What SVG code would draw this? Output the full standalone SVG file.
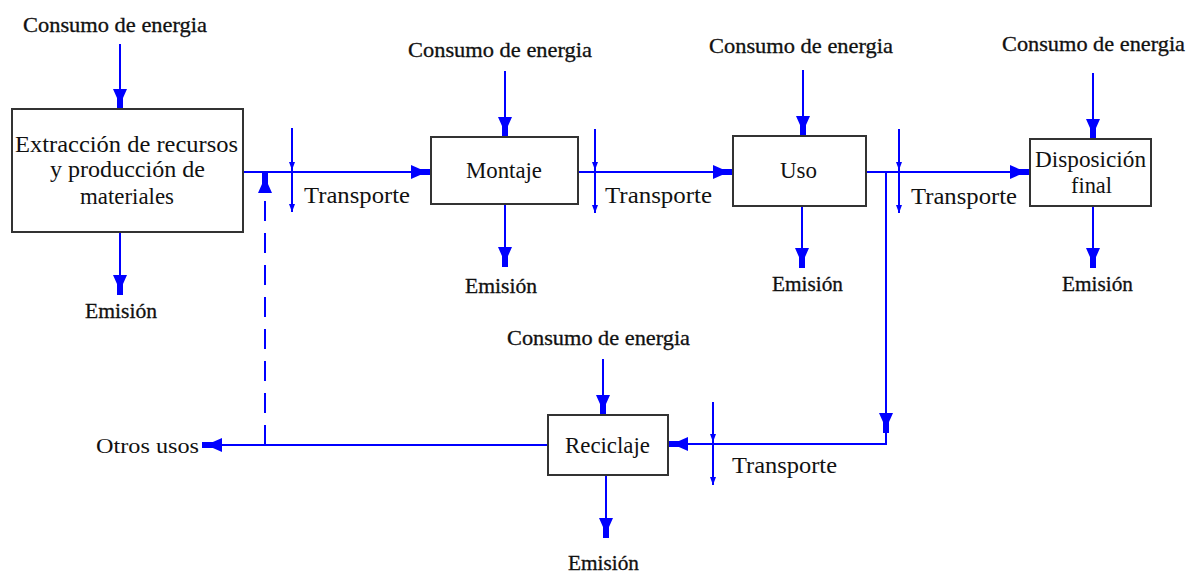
<svg xmlns="http://www.w3.org/2000/svg" width="1194" height="575" viewBox="0 0 1194 575">
<style>
text{font-family:'Liberation Serif','Times New Roman',Times,serif;fill:#111;}
.lbl{font-size:21px;stroke:#111;stroke-width:0.3px;}
.nt{font-size:24px;}
.tr{font-size:23px;}
.ot{font-size:22px;}
.box{fill:#fff;stroke:#333;stroke-width:2;}
.ln{fill:none;stroke:#0000ff;stroke-width:2;}
.big{marker-end:url(#ah);}
.sm{marker-end:url(#as);}
.dash{stroke-dasharray:20 12;}
</style>
<defs>
<marker id="ah" viewBox="-21 -8 22 16" markerWidth="22" markerHeight="16" refX="0" refY="0" orient="auto" markerUnits="userSpaceOnUse">
<path d="M-20,-7 L-10.9,-3 L0,-3 L0,3 L-10.9,3 L-20,7 Z" fill="#0000ff"/>
</marker>
<marker id="as" viewBox="-9 -4 10 8" markerWidth="10" markerHeight="8" refX="0" refY="0" orient="auto" markerUnits="userSpaceOnUse">
<path d="M0,0 L-8,-3 L-8,3 Z" fill="#0000ff"/>
</marker>
</defs>
<g id="connectors">
<path class="ln big" d="M120,44 L120,109"/>
<path class="ln big" d="M120,232 L120,295"/>
<path class="ln big" d="M243,172 L431,172"/>
<path class="ln sm" d="M292,128 L292,170"/>
<path class="ln sm" d="M292,170 L292,212"/>
<path class="ln dash big" d="M265,445 L265,173"/>
<path class="ln big" d="M505,71 L505,137"/>
<path class="ln big" d="M505,204 L505,267"/>
<path class="ln big" d="M578,172 L733,172"/>
<path class="ln sm" d="M595,129 L595,170"/>
<path class="ln sm" d="M595,170 L595,213"/>
<path class="ln big" d="M803,70 L803,136"/>
<path class="ln big" d="M802,206 L802,268"/>
<path class="ln big" d="M866,172 L1030,172"/>
<path class="ln sm" d="M899,129 L899,170"/>
<path class="ln sm" d="M899,170 L899,213"/>
<path class="ln big" d="M886,172 L886,433"/>
<path class="ln big" d="M886,432 L886,444 L668,444"/>
<path class="ln sm" d="M713,402 L713,442"/>
<path class="ln sm" d="M713,442 L713,485"/>
<path class="ln big" d="M548,445 L202,445"/>
<path class="ln big" d="M1093,73 L1093,139"/>
<path class="ln big" d="M1093,206 L1093,268"/>
<path class="ln big" d="M603,359 L603,415"/>
<path class="ln big" d="M606,475 L606,538"/>
</g>
<g id="extraccion">
<rect class="box" x="12" y="109" width="231" height="123"/>
<text class="nt" x="15" y="152" textLength="223" lengthAdjust="spacingAndGlyphs">Extracción de recursos</text>
<text class="nt" x="50" y="177" textLength="155" lengthAdjust="spacingAndGlyphs">y producción de</text>
<text class="nt" x="80" y="204" textLength="94" lengthAdjust="spacingAndGlyphs">materiales</text>
</g>
<g id="montaje">
<rect class="box" x="431" y="137" width="147" height="67"/>
<text class="nt" x="466" y="178" textLength="76" lengthAdjust="spacingAndGlyphs">Montaje</text>
</g>
<g id="uso">
<rect class="box" x="733" y="136" width="133" height="70"/>
<text class="nt" x="780" y="178" textLength="37" lengthAdjust="spacingAndGlyphs">Uso</text>
</g>
<g id="disposicion">
<rect class="box" x="1030" y="139" width="121" height="67"/>
<text class="nt" x="1035" y="167" textLength="111" lengthAdjust="spacingAndGlyphs">Disposición</text>
<text class="nt" x="1071" y="193" textLength="41" lengthAdjust="spacingAndGlyphs">final</text>
</g>
<g id="reciclaje">
<rect class="box" x="548" y="415" width="120" height="60"/>
<text class="nt" x="565" y="453" textLength="85" lengthAdjust="spacingAndGlyphs">Reciclaje</text>
</g>
<g id="labels">
<text class="lbl" x="23" y="32" textLength="184" lengthAdjust="spacingAndGlyphs">Consumo de energia</text>
<text class="lbl" x="408" y="57" textLength="184" lengthAdjust="spacingAndGlyphs">Consumo de energia</text>
<text class="lbl" x="709" y="53" textLength="184" lengthAdjust="spacingAndGlyphs">Consumo de energia</text>
<text class="lbl" x="1002" y="51" textLength="183" lengthAdjust="spacingAndGlyphs">Consumo de energia</text>
<text class="lbl" x="507" y="345" textLength="183" lengthAdjust="spacingAndGlyphs">Consumo de energia</text>
<text class="lbl" x="85" y="318" textLength="72" lengthAdjust="spacingAndGlyphs">Emisión</text>
<text class="lbl" x="465" y="293" textLength="72" lengthAdjust="spacingAndGlyphs">Emisión</text>
<text class="lbl" x="772" y="291" textLength="71" lengthAdjust="spacingAndGlyphs">Emisión</text>
<text class="lbl" x="1062" y="291" textLength="71" lengthAdjust="spacingAndGlyphs">Emisión</text>
<text class="lbl" x="568" y="570" textLength="71" lengthAdjust="spacingAndGlyphs">Emisión</text>
<text class="tr" x="304" y="203" textLength="106" lengthAdjust="spacingAndGlyphs">Transporte</text>
<text class="tr" x="605" y="203" textLength="107" lengthAdjust="spacingAndGlyphs">Transporte</text>
<text class="tr" x="911" y="204" textLength="106" lengthAdjust="spacingAndGlyphs">Transporte</text>
<text class="tr" x="732" y="473" textLength="105" lengthAdjust="spacingAndGlyphs">Transporte</text>
<text class="ot" x="96" y="453" textLength="103" lengthAdjust="spacingAndGlyphs">Otros usos</text>
</g>
</svg>
